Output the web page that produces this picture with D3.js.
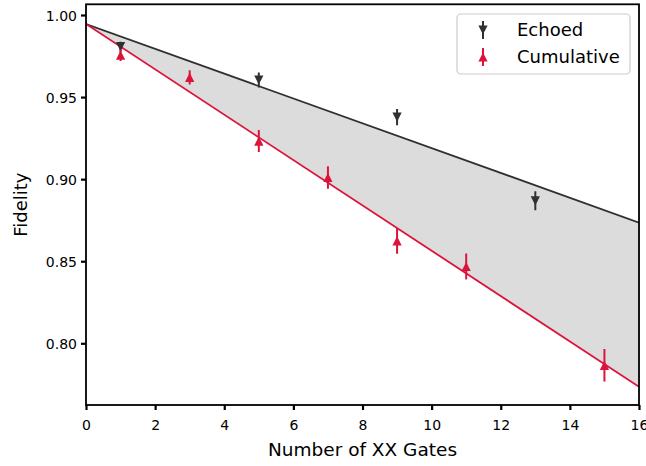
<!DOCTYPE html>
<html>
<head>
<meta charset="utf-8">
<script src="https://cdn.jsdelivr.net/npm/d3@7"></script>
<style>
  html, body { margin: 0; padding: 0; background: #fff; }
  svg { display: block; font-family: "DejaVu Sans", sans-serif; }
</style>
</head>
<body>
<svg id="chart" width="646" height="466"></svg>
<script>
// Echoed sequence measurements
const gatesEchoed = [1, 5, 9, 13];
const fidelityEchoed = [0.9807, 0.9604, 0.9378, 0.8868];
const errorEchoed = [0.0030, 0.0045, 0.0049, 0.0058];

// Cumulative sequence measurements
const gatesCumulative = [1, 3, 5, 7, 9, 11, 15];
const fidelityCumulative = [0.9756, 0.9620, 0.9232, 0.9010, 0.8624, 0.8468, 0.7866];
const errorCumulative = [0.0036, 0.0044, 0.0067, 0.0068, 0.0079, 0.0079, 0.0099];

// Linear fits: [intercept, slope per gate]
const fitEchoed = [0.9945, -0.00756];
const fitCumulative = [0.9945, -0.01381];

const xTicks = [0, 2, 4, 6, 8, 10, 12, 14, 16];
const yTicks = [0.80, 0.85, 0.90, 0.95, 1.00];

const W = 646, H = 466;
const margin = { left: 86, right: 7, top: 4.3, bottom: 61 };
const colEchoed = "#303030";
const colCumulative = "#dc143c";

const svg = d3.select("#chart");

const x = d3.scaleLinear().domain([0, 16]).range([margin.left, W - margin.right]);
const y = d3.scaleLinear().domain([0.76241, 1.00652]).range([H - margin.bottom, margin.top]);

svg.append("defs").append("clipPath").attr("id", "plot-clip")
  .append("rect")
  .attr("x", x(0)).attr("y", y.range()[1])
  .attr("width", x(16) - x(0)).attr("height", y.range()[0] - y.range()[1]);

const plot = svg.append("g").attr("clip-path", "url(#plot-clip)");

const fitLine = fit => xs => xs.map(n => [n, fit[0] + fit[1] * n]);
const xEnds = x.domain();

// Shaded gap between the two fits
const area = d3.area()
  .x(d => x(d.n))
  .y0(d => y(d.lo))
  .y1(d => y(d.hi));
plot.append("path")
  .datum(xEnds.map(n => ({ n, hi: fitEchoed[0] + fitEchoed[1] * n, lo: fitCumulative[0] + fitCumulative[1] * n })))
  .attr("d", area)
  .attr("fill", "#dcdcdc");

const line = d3.line().x(d => x(d[0])).y(d => y(d[1]));
plot.append("path").datum(fitLine(fitEchoed)(xEnds)).attr("d", line)
  .attr("fill", "none").attr("stroke", colEchoed).attr("stroke-width", 1.8);
plot.append("path").datum(fitLine(fitCumulative)(xEnds)).attr("d", line)
  .attr("fill", "none").attr("stroke", colCumulative).attr("stroke-width", 1.8);

// Triangle markers
const tri = (s, up) => up
  ? `M0,${-s}L${-s},${s}L${s},${s}Z`
  : `M0,${s}L${-s},${-s}L${s},${-s}Z`;

function drawSeries(gates, vals, errs, color, up) {
  const g = plot.append("g");
  const pts = gates.map((n, i) => ({ n, v: vals[i], e: errs[i] }));
  g.selectAll("line.err").data(pts).join("line")
    .attr("x1", d => x(d.n)).attr("x2", d => x(d.n))
    .attr("y1", d => y(d.v - d.e)).attr("y2", d => y(d.v + d.e))
    .attr("stroke", color).attr("stroke-width", 2);
  g.selectAll("path.mk").data(pts).join("path")
    .attr("transform", d => `translate(${x(d.n)},${y(d.v)})`)
    .attr("d", tri(4.6, up))
    .attr("fill", color);
}
drawSeries(gatesEchoed, fidelityEchoed, errorEchoed, colEchoed, false);
drawSeries(gatesCumulative, fidelityCumulative, errorCumulative, colCumulative, true);

// Axes
const xAxis = svg.append("g").attr("transform", `translate(0,${H - margin.bottom})`)
  .call(d3.axisBottom(x).tickValues(xTicks).tickFormat(d3.format("d")).tickSize(5).tickSizeOuter(0));
const yAxis = svg.append("g").attr("transform", `translate(${margin.left},0)`)
  .call(d3.axisLeft(y).tickValues(yTicks).tickFormat(d3.format(".2f")).tickSize(5).tickSizeOuter(0));
[xAxis, yAxis].forEach(a => {
  a.select(".domain").remove();
  a.selectAll(".tick line").attr("stroke", "#000").attr("stroke-width", 2.2);
  a.selectAll(".tick text").attr("fill", "#000").attr("font-family", "DejaVu Sans");
});
xAxis.selectAll(".tick text").attr("font-size", 14).attr("dy", "1.2em");
yAxis.selectAll(".tick text").attr("font-size", 14).attr("x", -9).attr("dy", "0.36em");

// Frame
svg.append("rect")
  .attr("x", x(0)).attr("y", y.range()[1])
  .attr("width", x(16) - x(0)).attr("height", y.range()[0] - y.range()[1])
  .attr("fill", "none").attr("stroke", "#000").attr("stroke-width", 1.8);

// Axis titles
svg.append("text")
  .attr("x", (x(0) + x(16)) / 2).attr("y", 456)
  .attr("text-anchor", "middle").attr("font-size", 18.5).attr("fill", "#000")
  .text("Number of XX Gates");
svg.append("text")
  .attr("transform", `translate(27,${(y.range()[0] + y.range()[1]) / 2}) rotate(-90)`)
  .attr("text-anchor", "middle").attr("font-size", 18).attr("fill", "#000")
  .text("Fidelity");

// Legend
const legend = svg.append("g");
legend.append("rect")
  .attr("x", 457).attr("y", 14).attr("width", 173).attr("height", 60).attr("rx", 4)
  .attr("fill", "#fff").attr("fill-opacity", 0.8).attr("stroke", "#cccccc").attr("stroke-width", 1.2);
const entries = [
  { label: "Echoed", color: colEchoed, up: false, yy: 30 },
  { label: "Cumulative", color: colCumulative, up: true, yy: 57 }
];
entries.forEach(e => {
  legend.append("line")
    .attr("x1", 483).attr("x2", 483).attr("y1", e.yy - 9).attr("y2", e.yy + 9)
    .attr("stroke", e.color).attr("stroke-width", 2);
  legend.append("path")
    .attr("transform", `translate(483,${e.yy})`)
    .attr("d", tri(4.6, e.up)).attr("fill", e.color);
  legend.append("text")
    .attr("x", 517).attr("y", e.yy).attr("dy", "0.36em")
    .attr("font-size", 18).attr("fill", "#000")
    .text(e.label);
});
</script>
</body>
</html>
